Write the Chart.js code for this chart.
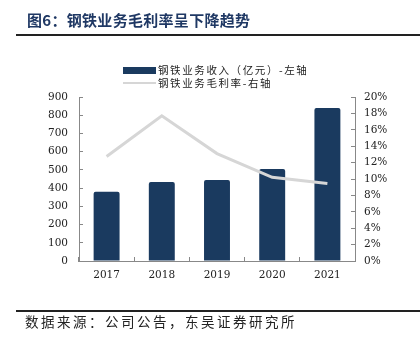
<!DOCTYPE html>
<html>
<head>
<meta charset="utf-8">
<script src="https://cdn.jsdelivr.net/npm/chart.js@4/dist/chart.umd.min.js"></script>
<style>
  html, body { margin: 0; padding: 0; background: #fff; }
  body { width: 420px; height: 349px; position: relative; overflow: hidden; font-family: "Noto Sans CJK SC", sans-serif; }
  #wrap { position: absolute; left: 0; top: 0; width: 420px; height: 349px; }
  .title { position: absolute; left: 27px; top: 9px; font-size: 15px; font-weight: bold; color: #1f3864; letter-spacing: 0.3px; line-height: 22px; white-space: nowrap; }
  .rule { position: absolute; left: 16px; width: 404px; height: 2px; background: #222; }
  .source { position: absolute; left: 25px; top: 311px; font-size: 13.5px; color: #222; letter-spacing: 2.5px; line-height: 20px; white-space: nowrap; }
  .leg { position: absolute; left: 123px; font-size: 10.5px; color: #222; line-height: 14px; white-space: nowrap; letter-spacing: 1.6px; }
  .leg .sw { position: absolute; left: 0; width: 33px; }
  .leg .tx { position: absolute; left: 35px; top: 0; }
</style>
</head>
<body>
<div id="wrap"><canvas id="c" width="420" height="349"></canvas></div>
<div class="title">图6：钢铁业务毛利率呈下降趋势</div>
<div class="rule" style="top:34px"></div>
<div class="leg" style="top:63px"><div class="sw" style="top:4px;height:7px;background:#1a3a5f"></div><div class="tx">钢铁业务收入（亿元）-左轴</div></div>
<div class="leg" style="top:76px"><div class="sw" style="top:6px;height:2px;background:#d6d6d6"></div><div class="tx">钢铁业务毛利率-右轴</div></div>
<div class="rule" style="top:310px"></div>
<div class="source">数据来源：公司公告，东吴证券研究所</div>
<script>
const categories = ["2017", "2018", "2019", "2020", "2021"];
const revenue = [380, 433, 445, 505, 840];
const margin = [0.1275, 0.177, 0.131, 0.102, 0.0945];
const leftTicks = [0, 900, 100];
const rightTicks = [0, 0.2, 0.02];

const tickFont = { family: "DejaVu Serif", size: 10.5 };
const axisColor = "#888";

new Chart(document.getElementById("c"), {
  data: {
    labels: categories,
    datasets: [
      {
        type: "line",
        label: "钢铁业务毛利率-右轴",
        data: margin,
        yAxisID: "y1",
        borderColor: "#d6d6d6",
        borderWidth: 3,
        pointRadius: 0,
        tension: 0,
        order: 0
      },
      {
        type: "bar",
        label: "钢铁业务收入（亿元）-左轴",
        data: revenue,
        yAxisID: "y",
        backgroundColor: "#1a3a5f",
        borderRadius: 2,
        borderSkipped: "bottom",
        barPercentage: 0.47,
        categoryPercentage: 1,
        order: 1
      }
    ]
  },
  options: {
    responsive: false,
    animation: false,
    layout: { padding: { left: 0, right: 0, top: 97, bottom: 58 } },
    plugins: { legend: { display: false }, tooltip: { enabled: false } },
    scales: {
      x: {
        grid: { drawOnChartArea: false, drawTicks: true, tickLength: -4, color: axisColor, offset: true },
        border: { color: axisColor, width: 1 },
        ticks: { font: tickFont, color: "#222", padding: 12, maxRotation: 0 },
        afterFit: s => { s.height = 30; }
      },
      y: {
        position: "left",
        min: leftTicks[0], max: leftTicks[1],
        grid: { drawOnChartArea: false, drawTicks: true, tickLength: -4, color: axisColor },
        border: { color: axisColor, width: 1 },
        ticks: { stepSize: leftTicks[2], font: tickFont, color: "#222", padding: 15 },
        afterFit: s => { s.width = 79; }
      },
      y1: {
        position: "right",
        min: rightTicks[0], max: rightTicks[1],
        grid: { drawOnChartArea: false, drawTicks: true, tickLength: -4, color: axisColor },
        border: { color: axisColor, width: 1 },
        ticks: { stepSize: rightTicks[2], font: tickFont, color: "#222", padding: 13,
                 callback: v => Math.round(v * 100) + "%" },
        afterFit: s => { s.width = 65; }
      }
    }
  }
});
</script>
</body>
</html>
